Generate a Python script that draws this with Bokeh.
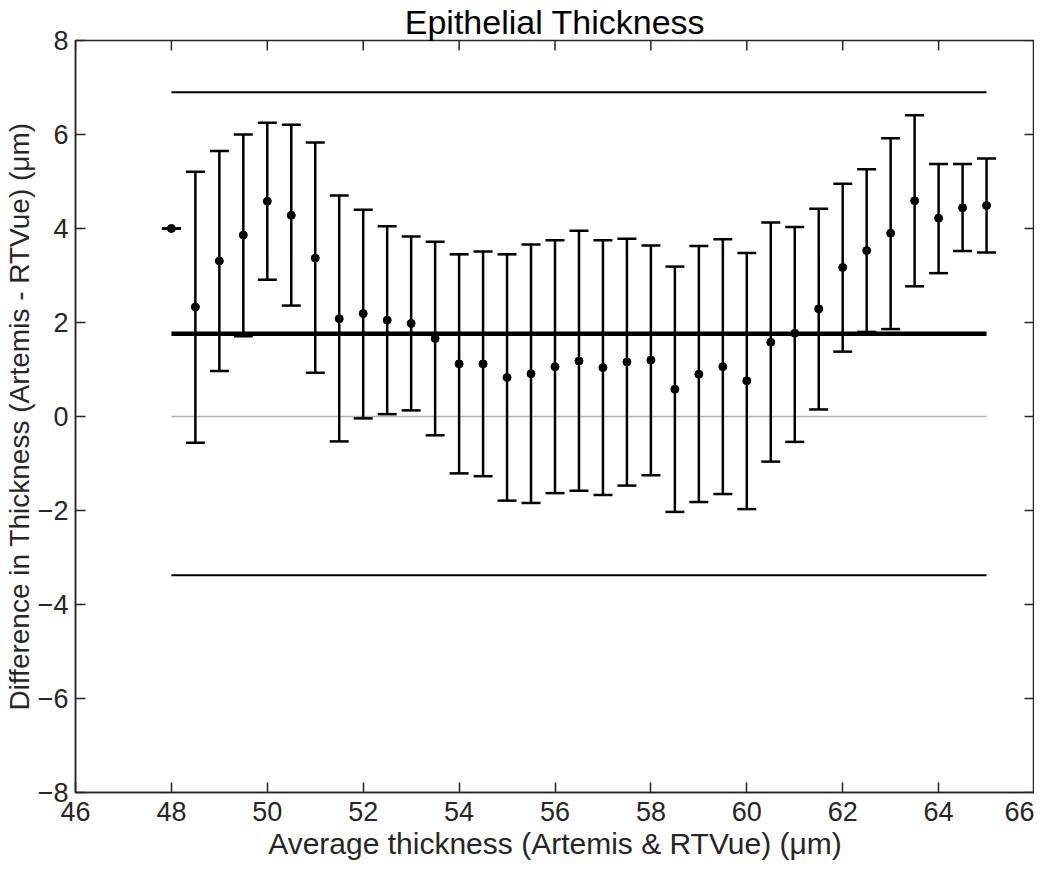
import math
from bokeh.plotting import figure
from bokeh.models import ColumnDataSource, FixedTicker, Range1d
from bokeh.embed import file_html
from bokeh.resources import INLINE

# ---- data ----
avg_thickness = [48.0, 48.5, 49.0, 49.5, 50.0, 50.5, 51.0, 51.5, 52.0, 52.5, 53.0, 53.5,
                 54.0, 54.5, 55.0, 55.5, 56.0, 56.5, 57.0, 57.5, 58.0, 58.5, 59.0, 59.5,
                 60.0, 60.5, 61.0, 61.5, 62.0, 62.5, 63.0, 63.5, 64.0, 64.5, 65.0]
mean_diff = [4.00, 2.33, 3.31, 3.86, 4.58, 4.28, 3.37, 2.08, 2.19, 2.05, 1.98, 1.66,
             1.12, 1.12, 0.83, 0.91, 1.06, 1.18, 1.04, 1.16, 1.20, 0.58, 0.90, 1.06,
             0.76, 1.58, 1.77, 2.29, 3.17, 3.53, 3.90, 4.59, 4.22, 4.44, 4.49]
upper_err = [4.00, 5.21, 5.65, 6.00, 6.25, 6.21, 5.83, 4.70, 4.40, 4.05, 3.83, 3.72,
             3.45, 3.51, 3.45, 3.66, 3.75, 3.95, 3.75, 3.78, 3.64, 3.19, 3.63, 3.77,
             3.48, 4.13, 4.03, 4.42, 4.95, 5.26, 5.92, 6.41, 5.37, 5.37, 5.49]
lower_err = [4.00, -0.56, 0.97, 1.71, 2.91, 2.36, 0.93, -0.53, -0.04, 0.05, 0.13, -0.40,
             -1.21, -1.27, -1.79, -1.84, -1.63, -1.58, -1.67, -1.47, -1.25, -2.03, -1.82, -1.65,
             -1.97, -0.96, -0.54, 0.15, 1.38, 1.80, 1.86, 2.77, 3.05, 3.52, 3.49]
mean_bias = 1.76
upper_loa = 6.90
lower_loa = -3.38
zero_level = 0.0
x_ticks = [46, 48, 50, 52, 54, 56, 58, 60, 62, 64, 66]
y_ticks = [-8, -6, -4, -2, 0, 2, 4, 6, 8]

title_text = "Epithelial Thickness"
x_label = "Average thickness (Artemis & RTVue) (\u03bcm)"
y_label = "Difference in Thickness (Artemis - RTVue) (\u03bcm)"

FONT = "Liberation Sans"
AX = "#262626"

src = ColumnDataSource(dict(x=avg_thickness, mean=mean_diff, upper=upper_err, lower=lower_err))
span_x = [avg_thickness[0], avg_thickness[-1]]

p = figure(width=1034, height=862, title=title_text,
           x_range=Range1d(x_ticks[0], x_ticks[-1]), y_range=Range1d(y_ticks[0], y_ticks[-1]),
           output_backend="svg", toolbar_location=None,
           min_border_left=60, min_border_right=0, min_border_top=0, min_border_bottom=60)
p.xgrid.visible = False
p.ygrid.visible = False
p.background_fill_color = "white"
p.border_fill_color = "white"
p.outline_line_color = AX
p.outline_line_width = 1.5

p.title.align = "center"
p.title.text_font = FONT
p.title.text_font_size = "34px"
p.title.text_font_style = "normal"
p.title.text_color = "black"
p.title.text_line_height = 0.8
p.title.standoff = 0
p.title.offset = 0

# zero line
p.line(span_x, [zero_level, zero_level], line_color="#b3b3b3", line_width=1.6)
# error bars
p.segment(x0="x", y0="lower", x1="x", y1="upper", source=src, line_color="black", line_width=2.5)
p.scatter(x="x", y="upper", source=src, marker="dash", size=19, line_color="black", line_width=2.5)
p.scatter(x="x", y="lower", source=src, marker="dash", size=19, line_color="black", line_width=2.5)
# limits of agreement
p.line(span_x, [upper_loa, upper_loa], line_color="black", line_width=2)
p.line(span_x, [lower_loa, lower_loa], line_color="black", line_width=2)
# mean bias
p.line(span_x, [mean_bias, mean_bias], line_color="black", line_width=4.5)
# points
p.scatter(x="x", y="mean", source=src, marker="circle", size=8, fill_color="black", line_color="black")

# inward ticks on top and right edges (mirror of the bottom/left axes)
p.ray(x=x_ticks, y=[y_ticks[-1]] * len(x_ticks), length=10, length_units="screen",
      angle=-math.pi / 2, line_color=AX, line_width=1.5)
p.ray(x=[x_ticks[-1]] * len(y_ticks), y=y_ticks, length=10, length_units="screen",
      angle=math.pi, line_color=AX, line_width=1.5)

xa = p.xaxis[0]
ya = p.yaxis[0]
for ax in (xa, ya):
    ax.axis_line_color = AX
    ax.axis_line_width = 1.5
    ax.major_tick_line_color = AX
    ax.major_tick_line_width = 1.5
    ax.major_tick_in = 10
    ax.major_tick_out = 0
    ax.minor_tick_line_color = None
    ax.major_label_text_font = FONT
    ax.major_label_text_color = AX
    ax.major_label_text_font_size = "27px"
    ax.axis_label_text_font = FONT
    ax.axis_label_text_color = AX
    ax.axis_label_text_font_style = "normal"

xa.ticker = FixedTicker(ticks=x_ticks)
ya.ticker = FixedTicker(ticks=y_ticks)
xa.major_label_standoff = 9
xa.axis_label = x_label
xa.axis_label_text_font_size = "30px"
xa.axis_label_standoff = 3
ya.major_label_standoff = 7
ya.axis_label = y_label
ya.axis_label_text_font_size = "28px"
ya.axis_label_standoff = 0

open("out.html", "w").write(file_html(p, INLINE))
